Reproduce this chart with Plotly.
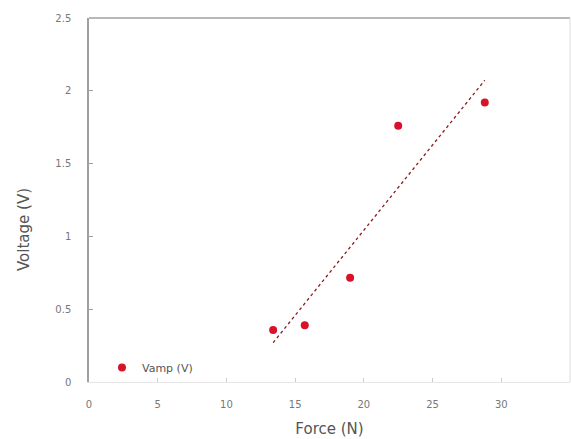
import numpy as np
import plotly.graph_objects as go

force = [13.4, 15.7, 19.0, 22.5, 28.8]
vamp = [0.357, 0.39, 0.716, 1.76, 1.92]
x_ticks = [0, 5, 10, 15, 20, 25, 30, 35]
y_ticks = [0, 0.5, 1, 1.5, 2, 2.5]
y_tick_text = ["0", "0.5", "1", "1.5", "2", "2.5"]

slope, intercept = np.polyfit(force, vamp, 1)
tx = [min(force), max(force)]
ty = [slope * v + intercept for v in tx]

FONT = "DejaVu Sans, Liberation Sans, Arial, sans-serif"

fig = go.Figure()
fig.add_trace(go.Scatter(
    x=tx, y=ty, mode="lines", showlegend=False,
    line=dict(color="#8b1a1a", width=1.3, dash="dot"), hoverinfo="skip"))
fig.add_trace(go.Scatter(
    x=force, y=vamp, mode="markers", name="Vamp (V)",
    marker=dict(color="#d9122b", size=8, symbol="circle")))

fig.update_layout(
    width=571, height=439,
    margin=dict(l=89, r=1, t=18, b=57),
    paper_bgcolor="white", plot_bgcolor="white",
    font=dict(family=FONT, color="#555555"),
    legend=dict(x=0.027, y=0.0, xanchor="left", yanchor="bottom",
                bgcolor="rgba(0,0,0,0)", font=dict(size=11, color="#555555")),
    xaxis=dict(range=[0, 35], tickvals=x_ticks, showgrid=False, zeroline=False,
               showline=True, linecolor="#e6e6e6", linewidth=1,
               ticks="inside", ticklen=4, tickcolor="#cccccc",
               ticklabelstandoff=13,
               tickfont=dict(size=10, color="#777777"),
               title=dict(text="Force (N)", font=dict(size=15, color="#555555"), standoff=14)),
    yaxis=dict(range=[0, 2.5], tickvals=y_ticks, ticktext=y_tick_text,
               showgrid=False, zeroline=False,
               showline=True, linecolor="#a0a0a0", linewidth=1.5,
               ticks="inside", ticklen=4, tickcolor="#a0a0a0",
               ticklabelstandoff=14,
               tickfont=dict(size=10, color="#777777")),
    annotations=[dict(text="Voltage (V)", textangle=-90, xref="paper", yref="paper",
                      x=(24 - 89) / 481, y=(382 - 230) / 364, xanchor="center", yanchor="middle",
                      showarrow=False, font=dict(size=15, color="#555555", family=FONT))],
    shapes=[
        dict(type="line", xref="paper", yref="paper", x0=0, x1=1, y0=1, y1=1,
             line=dict(color="#a0a0a0", width=1.5)),
        dict(type="line", xref="paper", yref="paper", x0=1, x1=1, y0=0, y1=1,
             line=dict(color="#dddddd", width=1)),
    ],
)
fig.write_html("out.html", config={"displayModeBar": False},
               post_script="document.body.style.margin='0';document.body.style.overflow='hidden';")
